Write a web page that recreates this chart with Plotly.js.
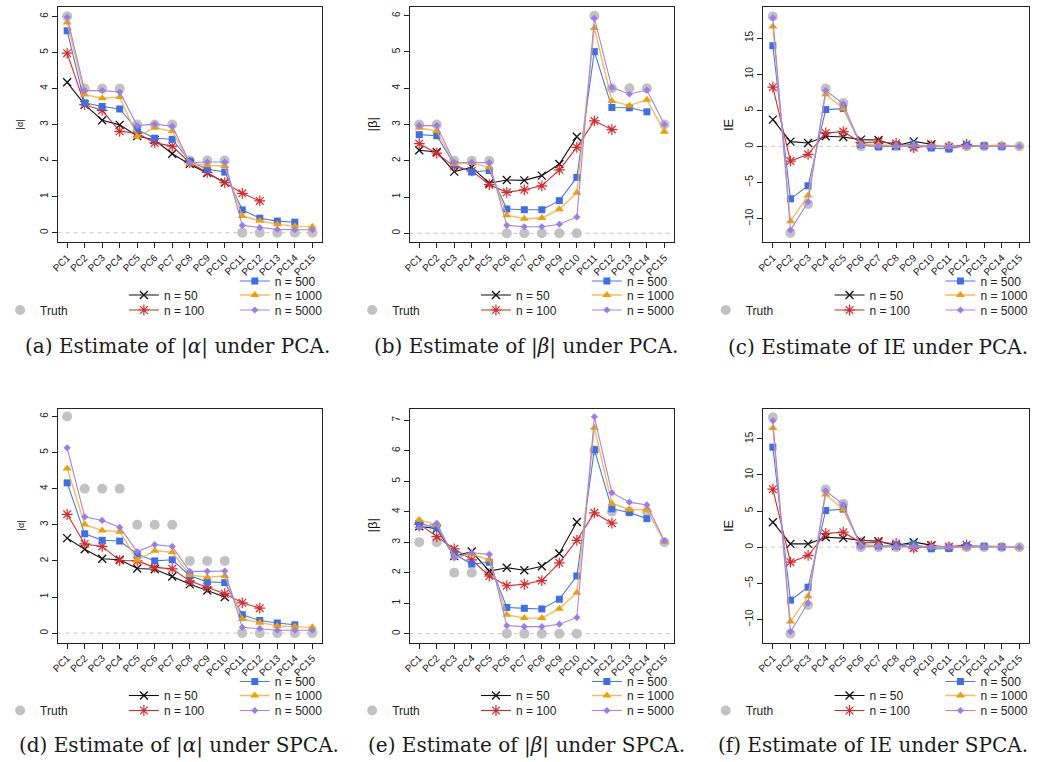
<!DOCTYPE html>
<html>
<head>
<meta charset="utf-8">
<script src="https://cdn.plot.ly/plotly-3.0.1.min.js"></script>
<style>html,body{margin:0;padding:0;background:#fff;}#chart{width:1037px;height:762px;}</style>
</head>
<body>
<div id="chart"></div>
<script>
// ---------------- data ----------------
const pcs = ['PC1','PC2','PC3','PC4','PC5','PC6','PC7','PC8','PC9','PC10','PC11','PC12','PC13','PC14','PC15'];
const seriesNames = ['n = 50','n = 100','n = 500','n = 1000','n = 5000'];

const truthAlpha = [6,4,4,4,3,3,3,2,2,2,0,0,0,0,0];
const truthBeta  = [3,3,2,2,2,0,0,0,0,0,6,4,4,4,3];
const truthIE    = [18,-12,-8,8,6,0,0,0,0,0,0,0,0,0,0];

// PCA, |alpha|
const pcaAlpha50   = [4.17,3.55,3.12,2.99,2.68,2.57,2.19,1.90,1.65,1.39];
const pcaAlpha100  = [4.98,3.55,3.39,2.81,2.76,2.49,2.40,1.94,1.67,1.39,1.09,0.88];
const pcaAlpha500  = [5.60,3.60,3.50,3.43,2.86,2.62,2.59,1.98,1.76,1.68,0.63,0.40,0.32,0.29];
const pcaAlpha1000 = [5.83,3.83,3.73,3.76,2.67,2.91,2.81,1.92,1.87,1.85,0.46,0.33,0.23,0.18,0.16];
const pcaAlpha5000 = [5.98,3.94,3.94,3.90,2.97,3.01,2.95,1.94,1.96,1.96,0.20,0.14,0.09,0.08,0.08];

// PCA, |beta|
const pcaBeta50   = [2.29,2.24,1.70,1.82,1.38,1.47,1.46,1.59,1.91,2.66];
const pcaBeta100  = [2.47,2.21,1.84,1.72,1.34,1.13,1.20,1.31,1.75,2.37,3.10,2.86];
const pcaBeta500  = [2.72,2.69,1.90,1.69,1.73,0.67,0.65,0.65,0.90,1.54,5.01,3.47,3.46,3.35];
const pcaBeta1000 = [2.91,2.82,1.91,1.94,1.82,0.50,0.40,0.42,0.66,1.12,5.66,3.65,3.52,3.68,2.80];
const pcaBeta5000 = [2.97,2.97,1.96,1.96,1.95,0.22,0.18,0.18,0.25,0.45,5.93,4.02,3.84,3.95,3.00];

// PCA, IE
const pcaIE50   = [3.70,0.65,0.46,1.39,1.30,0.93,0.88,0.08,0.69,0.28];
const pcaIE100  = [8.19,-2.04,-1.11,1.85,2.04,0.51,0.60,0.42,-0.19,0.09,-0.09,0.28];
const pcaIE500  = [13.94,-7.27,-5.46,5.09,5.23,0.23,-0.05,0.05,0.32,-0.23,-0.37,0.14,0.09,0.00];
const pcaIE1000 = [16.6,-10.37,-6.8,7.22,5.23,0.28,0.23,0.09,0.14,0.05,-0.05,-0.05,0.09,0.19,0.00];
const pcaIE5000 = [17.8,-11.6,-7.7,7.73,5.88,0.09,0.05,0.00,0.05,0.00,0.00,0.00,0.00,0.00,0.00];

// SPCA, |alpha|
const spcaAlpha50   = [2.63,2.32,2.06,2.03,1.79,1.77,1.57,1.35,1.18,1.00];
const spcaAlpha100  = [3.29,2.47,2.40,2.01,2.00,1.82,1.78,1.44,1.27,1.09,0.84,0.69];
const spcaAlpha500  = [4.16,2.75,2.57,2.55,2.19,2.00,2.03,1.59,1.42,1.40,0.51,0.35,0.28,0.23];
const spcaAlpha1000 = [4.56,3.01,2.84,2.81,2.02,2.28,2.24,1.61,1.55,1.58,0.39,0.29,0.20,0.18,0.16];
const spcaAlpha5000 = [5.13,3.22,3.12,2.93,2.26,2.45,2.40,1.71,1.71,1.72,0.16,0.13,0.08,0.08,0.08];

// SPCA, |beta|
const spcaBeta50   = [3.52,3.44,2.54,2.69,2.05,2.16,2.08,2.21,2.63,3.66];
const spcaBeta100  = [3.59,3.18,2.78,2.42,1.89,1.57,1.62,1.74,2.32,3.06,3.96,3.62];
const spcaBeta500  = [3.62,3.46,2.61,2.28,2.34,0.86,0.83,0.81,1.13,1.89,6.03,4.09,3.97,3.77];
const spcaBeta1000 = [3.73,3.57,2.51,2.60,2.42,0.62,0.51,0.51,0.82,1.34,6.75,4.27,4.07,4.06,3.01];
const spcaBeta5000 = [3.46,3.62,2.48,2.65,2.60,0.26,0.23,0.23,0.31,0.53,7.11,4.62,4.31,4.22,3.04];

// SPCA, IE
const spcaIE50   = [3.46,0.46,0.46,1.38,1.25,0.92,0.83,0.23,0.69,0.28];
const spcaIE100  = [8.03,-2.08,-1.15,1.89,2.08,0.60,0.65,0.51,-0.14,0.18,0.05,0.32];
const spcaIE500  = [13.85,-7.34,-5.54,5.08,5.26,0.32,0.18,0.23,0.42,-0.23,-0.18,0.18,0.14,0.05];
const spcaIE1000 = [16.5,-10.3,-6.8,7.3,5.2,0.23,0.18,0.05,0.14,0.05,0.00,-0.05,0.09,0.14,0.00];
const spcaIE5000 = [17.5,-11.7,-7.75,7.8,5.9,0.05,0.05,0.00,0.05,0.00,0.05,0.00,0.00,0.00,0.00];

const captions = [
  '(a) Estimate of |<i>α</i>| under PCA.',
  '(b) Estimate of |<i>β</i>| under PCA.',
  '(c) Estimate of IE under PCA.',
  '(d) Estimate of |<i>α</i>| under SPCA.',
  '(e) Estimate of |<i>β</i>| under SPCA.',
  '(f) Estimate of IE under SPCA.'
];
const yTitles = ['|α|','|β|','IE','|α|','|β|','IE'];

// ---------------- layout helpers ----------------
const W = 1037, H = 762;
const styles = [
  {color:'#111111', symbol:'x-thin-open', size:8, lw:1.3},
  {color:'#d8282b', symbol:'asterisk-open', size:9, lw:1.2},
  {color:'#3e6ee8', symbol:'square', size:7, lw:0},
  {color:'#f0a000', symbol:'triangle-up', size:8, lw:0},
  {color:'#9b7ceb', symbol:'diamond', size:5.5, lw:0}
];
const lineColors = ['#111111','#d8282b','#4a78ee','rgba(243,178,60,0.85)','#a184ee'];
const truthColor = '#c2c2c2';

const panels = [
  {x0:48,  x1:315,  y0:7,     y1:242,   yr:[-0.26,6.26], tv:[0,1,2,3,4,5,6], truth:truthAlpha, s:[pcaAlpha50,pcaAlpha100,pcaAlpha500,pcaAlpha1000,pcaAlpha5000], tsize:9, tx:-37, cap:[169,347]},
  {x0:403.5,x1:670.5,y0:7,    y1:242,   yr:[-0.24,6.24], tv:[0,1,2,3,4,5,6], truth:truthBeta,  s:[pcaBeta50,pcaBeta100,pcaBeta500,pcaBeta1000,pcaBeta5000], tsize:13, tx:-37, cap:[521,347]},
  {x0:760.5,x1:1029, y0:7,    y1:242,   yr:[-13.25,19.3], tv:[-10,-5,0,5,10,15], truth:truthIE, s:[pcaIE50,pcaIE100,pcaIE500,pcaIE1000,pcaIE5000], tsize:13, tx:-35, cap:[876,347]},
  {x0:48,  x1:315,  y0:408.5, y1:642.5, yr:[-0.26,6.22], tv:[0,1,2,3,4,5,6], truth:truthAlpha, s:[spcaAlpha50,spcaAlpha100,spcaAlpha500,spcaAlpha1000,spcaAlpha5000], tsize:9, tx:-37, cap:[171,745]},
  {x0:403.5,x1:670.5,y0:408.5,y1:642.5, yr:[-0.29,7.38], tv:[0,1,2,3,4,5,6,7], truth:truthBeta, s:[spcaBeta50,spcaBeta100,spcaBeta500,spcaBeta1000,spcaBeta5000], tsize:13, tx:-37, cap:[522,745]},
  {x0:760.5,x1:1029, y0:408.5,y1:642.5, yr:[-13.2,19.2], tv:[-10,-5,0,5,10,15], truth:truthIE, s:[spcaIE50,spcaIE100,spcaIE500,spcaIE1000,spcaIE5000], tsize:13, tx:-35, cap:[871,745]}
];

const tickFont = {family:'Liberation Sans, Arial, sans-serif', size:10, color:'#222'};
const legFont = {family:'Liberation Sans, Arial, sans-serif', size:12, color:'#222'};

const layout = {
  width: W, height: H,
  margin: {l:0, r:0, t:0, b:0},
  paper_bgcolor: '#ffffff', plot_bgcolor: '#ffffff',
  showlegend: true,
  shapes: [], annotations: []
};
const data = [];
let legCount = 0;
function newLegend(px, py) {
  legCount++;
  const name = legCount === 1 ? 'legend' : 'legend' + legCount;
  layout[name] = {
    x: px / W, y: 1 - py / H, xanchor: 'left', yanchor: 'middle',
    bgcolor: 'rgba(0,0,0,0)', borderwidth: 0, font: legFont,
    orientation: 'v', itemclick: false, itemdoubleclick: false
  };
  return name;
}

// legend row offsets (px below the plot box) and column offsets (px from box left)
const legendRows = [39, 53, 68];
const colTruth = -58, colA = 67, colB = 179;
const legendSlots = [
  [colA, legendRows[1]], [colA, legendRows[2]],
  [colB, legendRows[0]], [colB, legendRows[1]], [colB, legendRows[2]]
];

panels.forEach((p, i) => {
  const k = i + 1;
  const xa = k === 1 ? 'xaxis' : 'xaxis' + k;
  const ya = k === 1 ? 'yaxis' : 'yaxis' + k;
  const xr = k === 1 ? 'x' : 'x' + k;
  const yr = k === 1 ? 'y' : 'y' + k;
  layout[xa] = {
    domain: [p.x0 / W, p.x1 / W], anchor: yr,
    type: 'category', categoryorder: 'array', categoryarray: pcs,
    range: [-0.55, 14.55], tickangle: -45, ticks: 'outside', ticklen: 5,
    tickcolor: '#222', tickwidth: 1, showline: true, linecolor: '#222', linewidth: 1,
    mirror: true, showgrid: false, zeroline: false, tickfont: tickFont, fixedrange: true
  };
  layout[ya] = {
    domain: [1 - p.y1 / H, 1 - p.y0 / H], anchor: xr,
    range: p.yr, tickvals: p.tv, tickangle: -90, ticks: 'outside', ticklen: 5,
    tickcolor: '#222', tickwidth: 1, showline: true, linecolor: '#222', linewidth: 1,
    mirror: true, showgrid: false, zeroline: false, tickfont: tickFont, fixedrange: true
  };
  // dashed zero reference line
  layout.shapes.push({
    type: 'line', xref: xr + ' domain', yref: yr, x0: 0, x1: 1, y0: 0, y1: 0,
    line: {color: '#c8c8c8', width: 1, dash: '4px,4px'}, layer: 'below'
  });
  // truth
  data.push({
    type: 'scatter', mode: 'markers', x: pcs, y: p.truth, xaxis: xr, yaxis: yr,
    name: 'Truth', marker: {color: truthColor, size: 10, symbol: 'circle'},
    legend: newLegend(p.x0 + colTruth, p.y1 + legendRows[2]), hoverinfo: 'skip', cliponaxis: false
  });
  // series
  p.s.forEach((vals, j) => {
    const st = styles[j];
    data.push({
      type: 'scatter', mode: 'lines+markers',
      x: pcs.slice(0, vals.length), y: vals, xaxis: xr, yaxis: yr,
      name: seriesNames[j],
      line: {color: lineColors[j], width: j === 3 ? 1.4 : 1.1},
      marker: {color: st.color, size: st.size, symbol: st.symbol, line: {color: st.color, width: st.lw}},
      legend: newLegend(p.x0 + legendSlots[j][0], p.y1 + legendSlots[j][1]),
      hoverinfo: 'skip', cliponaxis: false
    });
  });
  // y-axis title
  layout.annotations.push({
    text: yTitles[i], xref: 'paper', yref: 'paper',
    x: (p.x0 + p.tx) / W, y: 1 - ((p.y0 + p.y1) / 2) / H, xanchor: 'center', yanchor: 'middle',
    textangle: -90, showarrow: false,
    font: {family: 'Liberation Sans, Arial, sans-serif', size: p.tsize, color: '#111'}
  });
  // caption
  layout.annotations.push({
    text: captions[i], xref: 'paper', yref: 'paper',
    x: p.cap[0] / W, y: 1 - p.cap[1] / H, xanchor: 'center', yanchor: 'middle',
    showarrow: false,
    font: {family: 'DejaVu Serif, serif', size: 20, color: '#1a1a1a'}
  });
});

Plotly.newPlot('chart', data, layout, {staticPlot: true, displayModeBar: false});
</script>
</body>
</html>
